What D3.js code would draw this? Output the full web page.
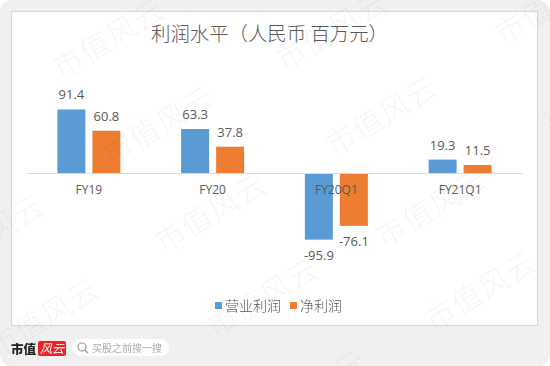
<!DOCTYPE html>
<html><head><meta charset="utf-8">
<script src="https://cdn.jsdelivr.net/npm/d3@7"></script>
<style>html,body{margin:0;padding:0;background:#fff}svg{display:block;filter:blur(0.35px)}text{font-family:"Noto Sans CJK SC","Noto Sans",sans-serif}</style>
</head><body><div id="chart"></div>
<script>
const categories = ["FY19","FY20","FY20Q1","FY21Q1"];
const seriesNames = ["营业利润","净利润"];
const operatingProfit = [91.4,63.3,-95.9,19.3];
const netProfit = [60.8,37.8,-76.1,11.5];
const seriesColors = ["#5b9bd5","#ed7d31"];
const chartTitle = "利润水平（人民币 百万元）";
const watermarkCenters = [[110,41],[160,128],[333,33],[383,118],[552,7],[45,320],[212,215],[-10,236],[264,300],[433,210],[482,293],[312,392],[600,95]];

const W=550,H=366;
const svg=d3.select("#chart").append("svg").attr("width",W).attr("height",H);
svg.append("rect").attr("x",0).attr("y",0).attr("width",W).attr("height",H).attr("rx",12).attr("fill","#f0f0f0");
svg.append("rect").attr("x",11.5).attr("y",11.5).attr("width",526).attr("height",314)
   .attr("fill","#fff").attr("stroke","#d9d9d9").attr("stroke-width",1.2);

const y=d3.scaleLinear().domain([-100,100]).range([173+69.5,173-69.5]);
const x=d3.scaleBand().domain(categories).range([27,522]);
const inner=d3.scaleBand().domain(seriesNames).range([-31.5,31.5]).paddingInner(0.2);
const values=[operatingProfit,netProfit];

svg.append("text").attr("x",269.5).attr("y",40.5).attr("text-anchor","middle")
   .attr("font-size",19.4).attr("font-weight",300).attr("fill","#595959").text(chartTitle);

seriesNames.forEach((name,s)=>{
  const g=svg.append("g");
  const data=categories.map((c,i)=>({c,v:values[s][i]}));
  g.selectAll("rect").data(data).join("rect")
    .attr("x",d=>x(d.c)+x.bandwidth()/2+inner(name))
    .attr("width",inner.bandwidth())
    .attr("y",d=>Math.min(y(d.v),y(0)))
    .attr("height",d=>Math.abs(y(d.v)-y(0)))
    .attr("fill",seriesColors[s]);
  g.selectAll("text").data(data).join("text")
    .attr("x",d=>x(d.c)+x.bandwidth()/2+inner(name)+inner.bandwidth()/2)
    .attr("y",d=>d.v>=0?y(d.v)-10:y(d.v)+20)
    .attr("text-anchor","middle").attr("font-size",13).attr("fill","#595959")
    .style("font-family","'Open Sans',sans-serif")
    .text(d=>d.v.toFixed(1));
});

const axis=d3.axisBottom(x).tickSize(0).tickPadding(12);
const ag=svg.append("g").attr("transform",`translate(0,${y(0)})`).call(axis);
ag.select(".domain").attr("stroke","#d9d9d9").attr("stroke-width",1.2);
ag.selectAll("text").attr("font-size",12).attr("fill","#595959").style("font-family","'Open Sans',sans-serif");

const legendX=[215,290];
seriesNames.forEach((name,s)=>{
  svg.append("rect").attr("x",legendX[s]).attr("y",302).attr("width",7).attr("height",7).attr("fill",seriesColors[s]);
  svg.append("text").attr("x",legendX[s]+10).attr("y",310.5).attr("font-size",14).attr("font-weight",300).attr("fill","#595959").text(name);
});

// footer logo and search box
svg.append("text").attr("x",11).attr("y",354).attr("font-size",12.5).attr("font-weight",900).attr("fill","#222").text("市值");
svg.append("rect").attr("x",38).attr("y",341).attr("width",28).attr("height",15).attr("rx",2).attr("fill","#e8232a");
svg.append("text").attr("x",40).attr("y",353).attr("font-size",12).attr("font-style","italic").attr("fill","#fff").text("风云");
svg.append("rect").attr("x",72).attr("y",339).attr("width",97).attr("height",17).attr("rx",8.5).attr("fill","#fff");
svg.append("circle").attr("cx",82).attr("cy",347).attr("r",4).attr("fill","none").attr("stroke","#999").attr("stroke-width",1.2);
svg.append("line").attr("x1",85).attr("y1",350).attr("x2",88).attr("y2",353).attr("stroke","#999").attr("stroke-width",1.2);
svg.append("text").attr("x",92).attr("y",352).attr("font-size",10).attr("fill","#aaa").text("买股之前搜一搜");

// watermark
svg.append("g").selectAll("text").data(watermarkCenters).join("text")
  .attr("transform",d=>`translate(${d[0]},${d[1]}) rotate(-31)`)
  .attr("text-anchor","middle").attr("dominant-baseline","middle")
  .attr("font-size",30).attr("font-weight",200).attr("fill","#000").attr("fill-opacity",0.04)
  .attr("letter-spacing",1).text("市值风云");
</script></body></html>
